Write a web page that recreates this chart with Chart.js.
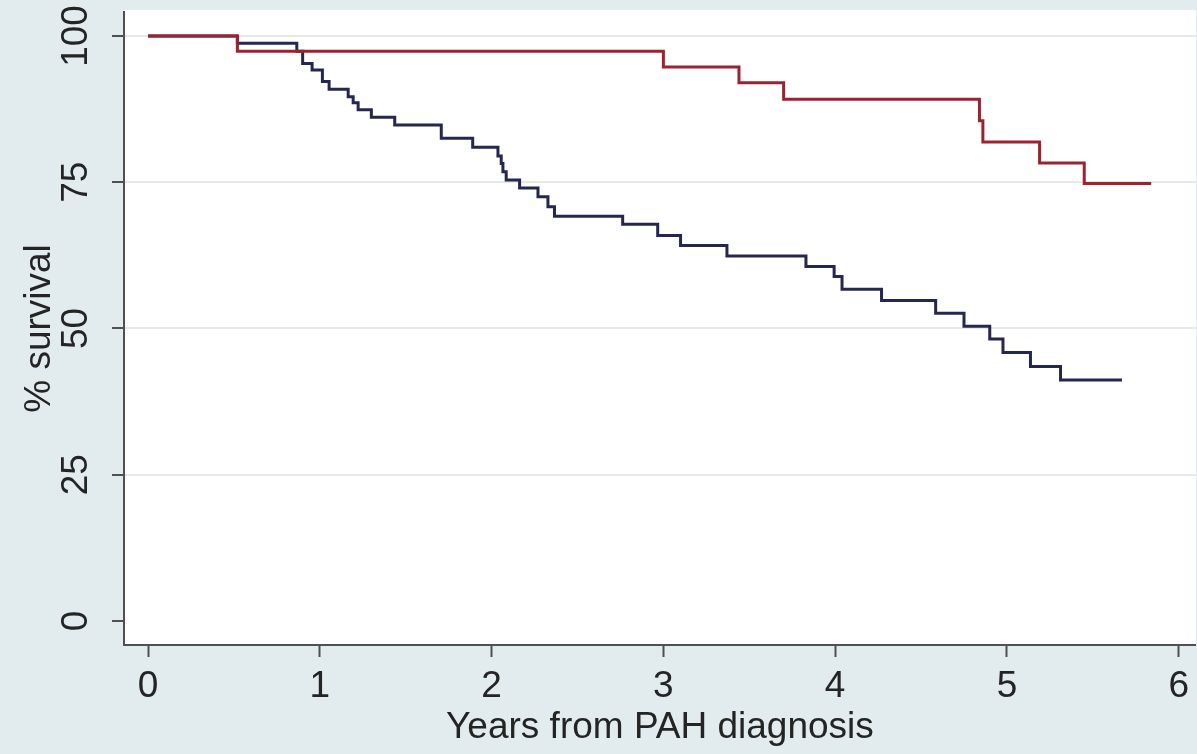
<!DOCTYPE html>
<html>
<head>
<meta charset="utf-8">
<title>% survival by years from PAH diagnosis</title>
<script src="https://cdn.jsdelivr.net/npm/chart.js@4"></script>
<style>
  html, body { margin: 0; padding: 0; background: #e2ecef; }
  canvas { display: block; }
</style>
</head>
<body>
<canvas id="survivalChart" width="1197" height="754"></canvas>
<script>
// Kaplan-Meier steps: year of each drop and the % surviving from then on
const redYears = [0, 0.52, 3.0, 3.44, 3.70, 4.84, 4.86, 5.19, 5.45, 5.84];
const redSurvival = [100, 97.4, 94.7, 92.0, 89.2, 85.5, 81.9, 78.3, 74.8, 74.8];

const blueYears = [0, 0.52, 0.866, 0.90, 0.955, 1.015, 1.054, 1.165, 1.194, 1.223, 1.30, 1.436,
  1.707, 1.89, 2.037, 2.056, 2.066, 2.085, 2.163, 2.27, 2.328, 2.366, 2.763, 2.967, 3.10,
  3.37, 3.83, 3.994, 4.04, 4.27, 4.585, 4.75, 4.90, 4.977, 5.137, 5.312, 5.67];
const blueSurvival = [100, 98.75, 97.4, 95.3, 94.2, 92.2, 90.9, 89.6, 88.6, 87.4, 86.1, 84.8,
  82.5, 81.0, 79.5, 78.2, 76.8, 75.4, 74.0, 72.5, 70.8, 69.2, 67.8, 65.9, 64.2,
  62.4, 60.6, 58.9, 56.7, 54.8, 52.6, 50.4, 48.2, 45.9, 43.5, 41.2, 41.2];

const xTicks = [0, 1, 2, 3, 4, 5, 6];
const yTicks = [0, 25, 50, 75, 100];

const FONT = "'Liberation Sans', Arial, Helvetica, sans-serif";
const INK = "#242424";
const AXIS = "#505050";

function toPoints(xs, ys) {
  return xs.map((x, i) => ({ x: x, y: ys[i] }));
}

// white plot region on the tinted page
const plotBackground = {
  id: "plotBackground",
  beforeDraw(chart) {
    const { ctx, chartArea } = chart;
    ctx.save();
    ctx.fillStyle = "#ffffff";
    ctx.fillRect(chartArea.left, chartArea.top - 2, chartArea.right - chartArea.left, chartArea.bottom - chartArea.top + 2);
    ctx.restore();
  },
};

// y tick labels are written sideways, reading upwards
const sidewaysYLabels = {
  id: "sidewaysYLabels",
  afterDraw(chart) {
    const { ctx } = chart;
    const y = chart.scales.y;
    ctx.save();
    ctx.font = "37px " + FONT;
    ctx.fillStyle = INK;
    ctx.textAlign = "center";
    ctx.textBaseline = "middle";
    yTicks.forEach((v) => {
      ctx.save();
      ctx.translate(77, y.getPixelForValue(v));
      ctx.rotate(-Math.PI / 2);
      ctx.fillText(String(v), 0, 0);
      ctx.restore();
    });
    ctx.restore();
  },
};

new Chart(document.getElementById("survivalChart"), {
  type: "line",
  data: {
    datasets: [
      {
        label: "red",
        data: toPoints(redYears, redSurvival),
        borderColor: "#9c2230",
        borderWidth: 3,
        stepped: true,
        pointRadius: 0,
        fill: false,
      },
      {
        label: "blue",
        data: toPoints(blueYears, blueSurvival),
        borderColor: "#25274f",
        borderWidth: 3,
        stepped: true,
        pointRadius: 0,
        fill: false,
      },
    ],
  },
  options: {
    responsive: false,
    animation: false,
    layout: { padding: { top: 12, right: 0, left: 0, bottom: 0 } },
    plugins: {
      legend: { display: false },
      tooltip: { enabled: false },
    },
    scales: {
      x: {
        type: "linear",
        min: -0.14,
        max: 6.1,
        afterBuildTicks: (scale) => { scale.ticks = xTicks.map((v) => ({ value: v })); },
        afterFit: (scale) => { scale.height = 109; },
        ticks: {
          color: INK,
          font: { family: FONT, size: 37 },
          padding: 8,
          maxRotation: 0,
        },
        grid: {
          drawOnChartArea: false,
          drawTicks: true,
          tickLength: 12,
          tickWidth: 2,
          tickColor: AXIS,
        },
        border: { color: AXIS, width: 2 },
        title: {
          display: true,
          text: "Years from PAH diagnosis",
          color: INK,
          font: { family: FONT, size: 37 },
          padding: { top: 0, bottom: 4 },
        },
      },
      y: {
        type: "linear",
        min: -4.1,
        max: 104.1,
        afterBuildTicks: (scale) => { scale.ticks = yTicks.map((v) => ({ value: v })); },
        afterFit: (scale) => { scale.width = 124; },
        ticks: { display: false },
        grid: {
          color: (c) => (c.tick && c.tick.value === 0 ? "rgba(0,0,0,0)" : "#e8e8e8"),
          lineWidth: 2,
          drawTicks: true,
          tickLength: 12,
          tickWidth: 2,
          tickColor: AXIS,
        },
        border: { color: AXIS, width: 2 },
        title: {
          display: true,
          text: "% survival",
          color: INK,
          font: { family: FONT, size: 37 },
          padding: { top: 18, bottom: 0 },
        },
      },
    },
  },
  plugins: [plotBackground, sidewaysYLabels],
});
</script>
</body>
</html>
